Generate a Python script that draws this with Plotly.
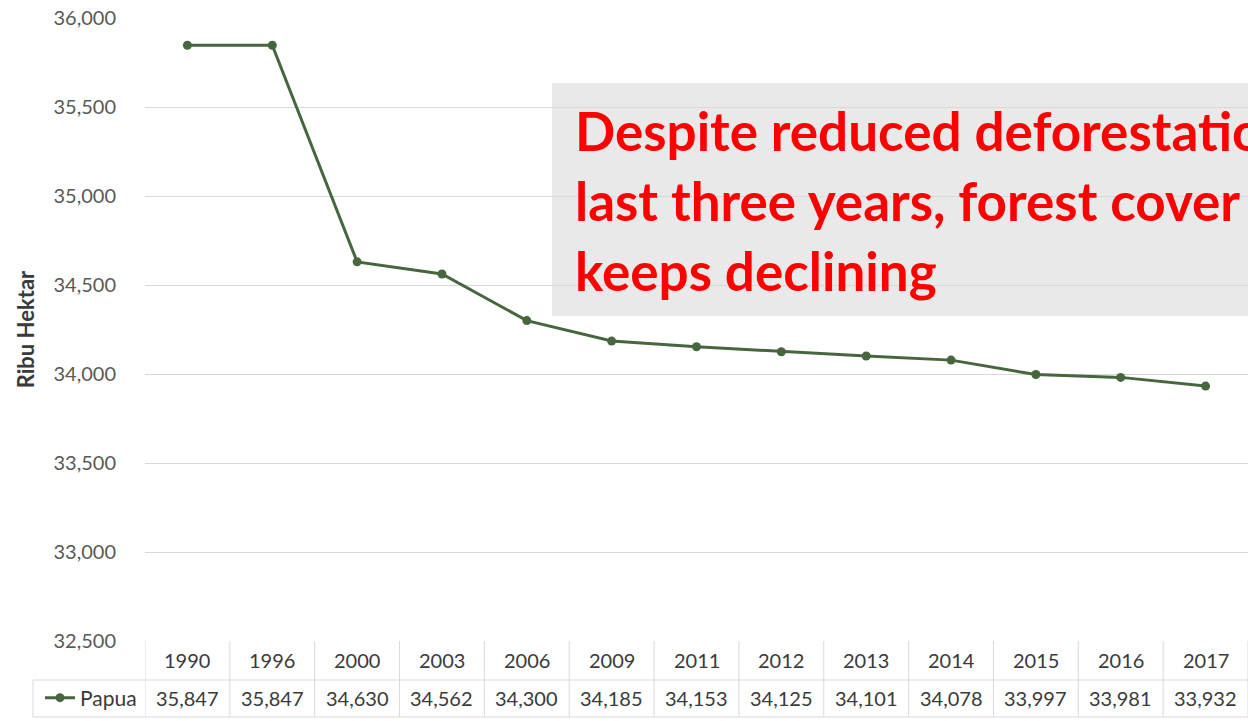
import plotly.graph_objects as go

years = ["1990", "1996", "2000", "2003", "2006", "2009", "2011", "2012", "2013", "2014", "2015", "2016", "2017"]
papua = [35847, 35847, 34630, 34562, 34300, 34185, 34153, 34125, 34101, 34078, 33997, 33981, 33932]
y_ticks = [32500, 33000, 33500, 34000, 34500, 35000, 35500, 36000]
series_name = "Papua"
note_lines = ["Despite reduced deforestation in the", "last three years, forest cover", "keeps declining"]
y_title = "Ribu Hektar"

W, H = 1248, 721
L, R, T, B = 145, 0, 18, 80
pw, ph = W - L - R, H - T - B

def px_x(p):
    return (p - L) / pw

def px_y(p):
    return (H - B - p) / ph

LINE = "#47663f"
GRID = "#d9d9d9"
TXT = "#3a3a3a"
FONT = "Lato"

fig = go.Figure()
fig.add_trace(go.Scatter(
    x=list(range(len(years))), y=papua, mode="lines+markers", name=series_name,
    line=dict(color=LINE, width=3), marker=dict(color=LINE, size=9),
))

shapes = []
# annotation box
shapes.append(dict(type="rect", xref="paper", yref="paper",
                   x0=px_x(552), x1=1.02, y0=px_y(316), y1=px_y(83),
                   fillcolor="#e9e9e9", line=dict(width=0), layer="below"))
# data table grid
n = len(years)
for i in range(n + 1):
    shapes.append(dict(type="line", xref="x", yref="paper", x0=i - 0.5, x1=i - 0.5,
                       y0=px_y(717), y1=0, line=dict(color=GRID, width=1)))
shapes.append(dict(type="line", xref="paper", yref="paper", x0=px_x(33), x1=1,
                   y0=px_y(680), y1=px_y(680), line=dict(color=GRID, width=1)))
shapes.append(dict(type="line", xref="paper", yref="paper", x0=px_x(33), x1=1,
                   y0=px_y(717), y1=px_y(717), line=dict(color=GRID, width=1)))
shapes.append(dict(type="line", xref="paper", yref="paper", x0=px_x(33), x1=px_x(33),
                   y0=px_y(717), y1=px_y(680), line=dict(color=GRID, width=1)))

annotations = []
for i, (yr, v) in enumerate(zip(years, papua)):
    annotations.append(dict(x=i, y=px_y(660), xref="x", yref="paper", text=yr,
                            showarrow=False, font=dict(family=FONT, size=20, color=TXT),
                            xanchor="center", yanchor="middle"))
    annotations.append(dict(x=i, y=px_y(698), xref="x", yref="paper", text=f"{v:,}",
                            showarrow=False, font=dict(family=FONT, size=20, color=TXT),
                            xanchor="center", yanchor="middle"))
for k, line in enumerate(note_lines):
    annotations.append(dict(x=px_x(573), y=px_y(130 + 70 * k), xref="paper", yref="paper",
                            text=f"<b>{line}</b>", showarrow=False, align="left",
                            font=dict(family=FONT, size=53, color="#ff0000"),
                            xanchor="left", yanchor="middle"))

fig.update_layout(
    width=W, height=H,
    margin=dict(l=L, r=R, t=T, b=B),
    paper_bgcolor="white", plot_bgcolor="white",
    font=dict(family=FONT, color="#595959"),
    showlegend=True,
    legend=dict(x=px_x(40), y=px_y(698), xanchor="left", yanchor="middle",
                font=dict(family=FONT, size=21, color=TXT), bgcolor="rgba(0,0,0,0)",
                itemwidth=30, tracegroupgap=0),
    xaxis=dict(range=[-0.5, n - 0.5], showticklabels=False, showgrid=False,
               zeroline=False, showline=False, ticks=""),
    yaxis=dict(range=[32500, 36000], tickvals=y_ticks, tickformat=",",
               showgrid=True, gridcolor=GRID, gridwidth=1, zeroline=False, showline=False,
               ticks="outside", ticklen=24, tickcolor="rgba(0,0,0,0)",
               tickfont=dict(family=FONT, size=20, color="#595959"),
               title=dict(text=f"<b>{y_title}</b>", font=dict(family=FONT, size=22, color=TXT),
                          standoff=12)),
    shapes=shapes, annotations=annotations,
)

fig.write_html("out.html")
